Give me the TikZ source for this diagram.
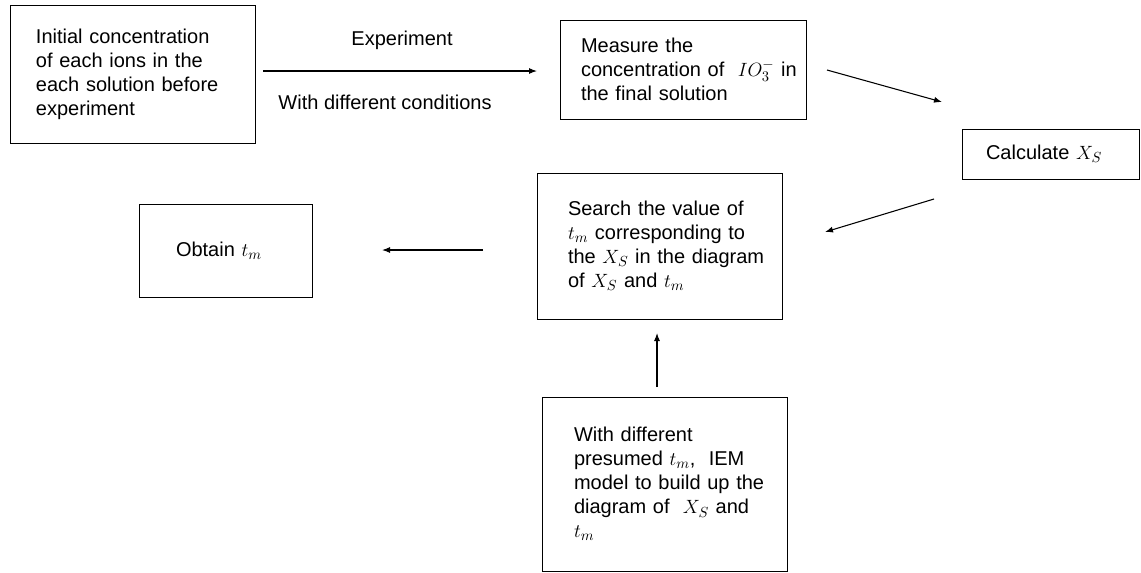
\documentclass[tikz,border=0pt]{standalone}
\usepackage{fontspec}
\setmainfont{Liberation Sans}
\usetikzlibrary{arrows.meta}

\tikzset{
  box/.style 2 args={draw, line width=0.75pt, inner xsep=0pt, text width=#1, align=left,
    execute at begin node={\leftskip=#2}},
  flow/.style={line width=0.8pt, -{Latex[length=6pt,width=4.5pt]}},
}

\begin{document}
\begin{tikzpicture}[x=0.75pt,y=0.75pt,yscale=-1,xscale=1,font=\fontsize{15}{18}\selectfont]
\useasboundingbox (0,0) rectangle (1141,572);

%Shape: Rectangle [initial concentrations]
\node [box={183.75pt}{19.5pt}, minimum height=103.5pt] (init) at (132.5,74) {Initial concentration\\of each ions in the\\each solution before\\experiment};
%Shape: Rectangle [measure]
\node [box={184.5pt}{15.75pt}, minimum height=74.25pt] (measure) at (683,69.5) {Measure the\\concentration of~ $IO_3^-$ in\\the final solution};
%Shape: Rectangle [calculate]
\node [box={132.75pt}{18pt}, minimum height=37.5pt] (calc) at (1050.5,154) {Calculate $X_S$};
%Shape: Rectangle [search]
\node [box={183.75pt}{23.25pt}, minimum height=109.5pt] (search) at (659.5,246) {Search the value of\\$t_m$ corresponding to\\the $X_S$ in the diagram\\of $X_S$ and $t_m$};
%Shape: Rectangle [obtain]
\node [box={129.75pt}{27.75pt}, minimum height=69.75pt] (obtain) at (225.5,250.5) {Obtain $t_m$};
%Shape: Rectangle [model]
\node [box={183.75pt}{24pt}, minimum height=130.5pt] (model) at (664.5,484) {With different\\presumed $t_m$,~ IEM\\model to build up the\\diagram of~ $X_S$ and\\$t_m$};

% arrow ends
\coordinate (expS) at (263,71);
\coordinate (expE) at (537,71);
\coordinate (calcS) at (827,70);
\coordinate (calcE) at (942,102);
\coordinate (srchS) at (934,199);
\coordinate (srchE) at (825,232);
\coordinate (obtS) at (483,250);
\coordinate (obtE) at (382,250);
\coordinate (mdlS) at (657,387);
\coordinate (mdlE) at (657,333);

%Straight Lines
\draw [flow] (expS) -- (expE);
\draw [flow] (calcS) -- (calcE);
\draw [flow] (srchS) -- (srchE);
\draw [flow] (obtS) -- (obtE);
\draw [flow] (mdlS) -- (mdlE);

% Text Node
\node (expLbl) at (402,40) {Experiment};
% Text Node
\node (condLbl) at (385,102) {With different conditions};

\end{tikzpicture}
\end{document}
